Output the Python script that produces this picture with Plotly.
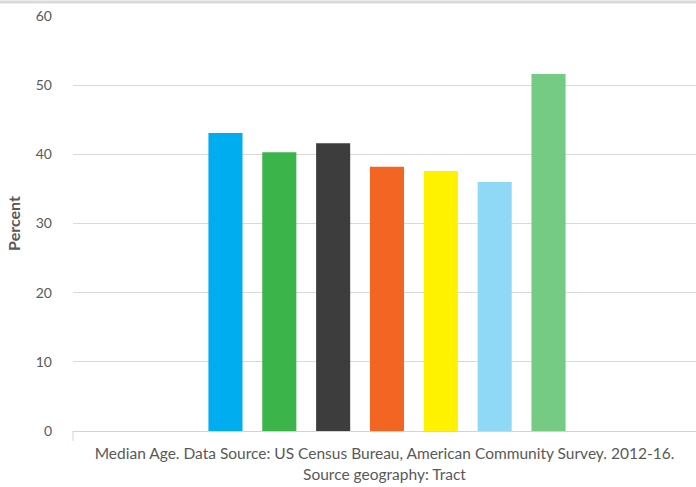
import plotly.graph_objects as go

series = ["Series 1", "Series 2", "Series 3", "Series 4", "Series 5", "Series 6", "Series 7"]
values = [43.1, 40.3, 41.6, 38.2, 37.6, 36.0, 51.6]
colors = ["#00adee", "#3bb54a", "#3d3d3d", "#f26522", "#fff200", "#8fd9f6", "#75cb83"]
category = [""]
y_ticks = [0, 10, 20, 30, 40, 50, 60]
caption = "Median Age. Data Source: US Census Bureau, American Community Survey. 2012-16.<br>Source geography: Tract"

fig = go.Figure()
for name, v, c in zip(series, values, colors):
    fig.add_trace(go.Bar(x=category, y=[v], name=name, marker=dict(color=c, line=dict(width=0))))

fig.update_layout(
    width=696, height=487,
    barmode="group", bargap=0.395, bargroupgap=0.367,
    showlegend=False,
    plot_bgcolor="white", paper_bgcolor="white",
    margin=dict(l=73, r=0, t=16, b=56),
    font=dict(family="Lato, sans-serif", color="#595959", size=14),
    yaxis=dict(range=[0, 60], tickvals=y_ticks, showgrid=True, gridcolor="#d9d9d9", gridwidth=1,
               zeroline=False, showline=False, ticklabelstandoff=20,
               tickfont=dict(size=14, color="#595959"),
               title=dict(text="<b>Percent</b>", font=dict(size=16, color="#595959"), standoff=11)),
    xaxis=dict(range=[-0.504, 0.496], showline=True, linecolor="#c9d5e3", linewidth=1, showticklabels=False,
               title=dict(text=caption, font=dict(size=15.5, color="#595959"), standoff=17)),
)
fig.add_shape(type="line", xref="paper", yref="paper", x0=0, x1=0, y0=0, y1=-0.024,
              line=dict(color="#c9d5e3", width=1))
fig.add_shape(type="line", xref="paper", yref="paper", x0=-0.2, x1=1.2, y0=1.034, y1=1.034,
              line=dict(color="#d9d9d9", width=3))
fig.write_html("out.html", config={"displayModeBar": False},
               post_script="document.body.style.margin='0';")
